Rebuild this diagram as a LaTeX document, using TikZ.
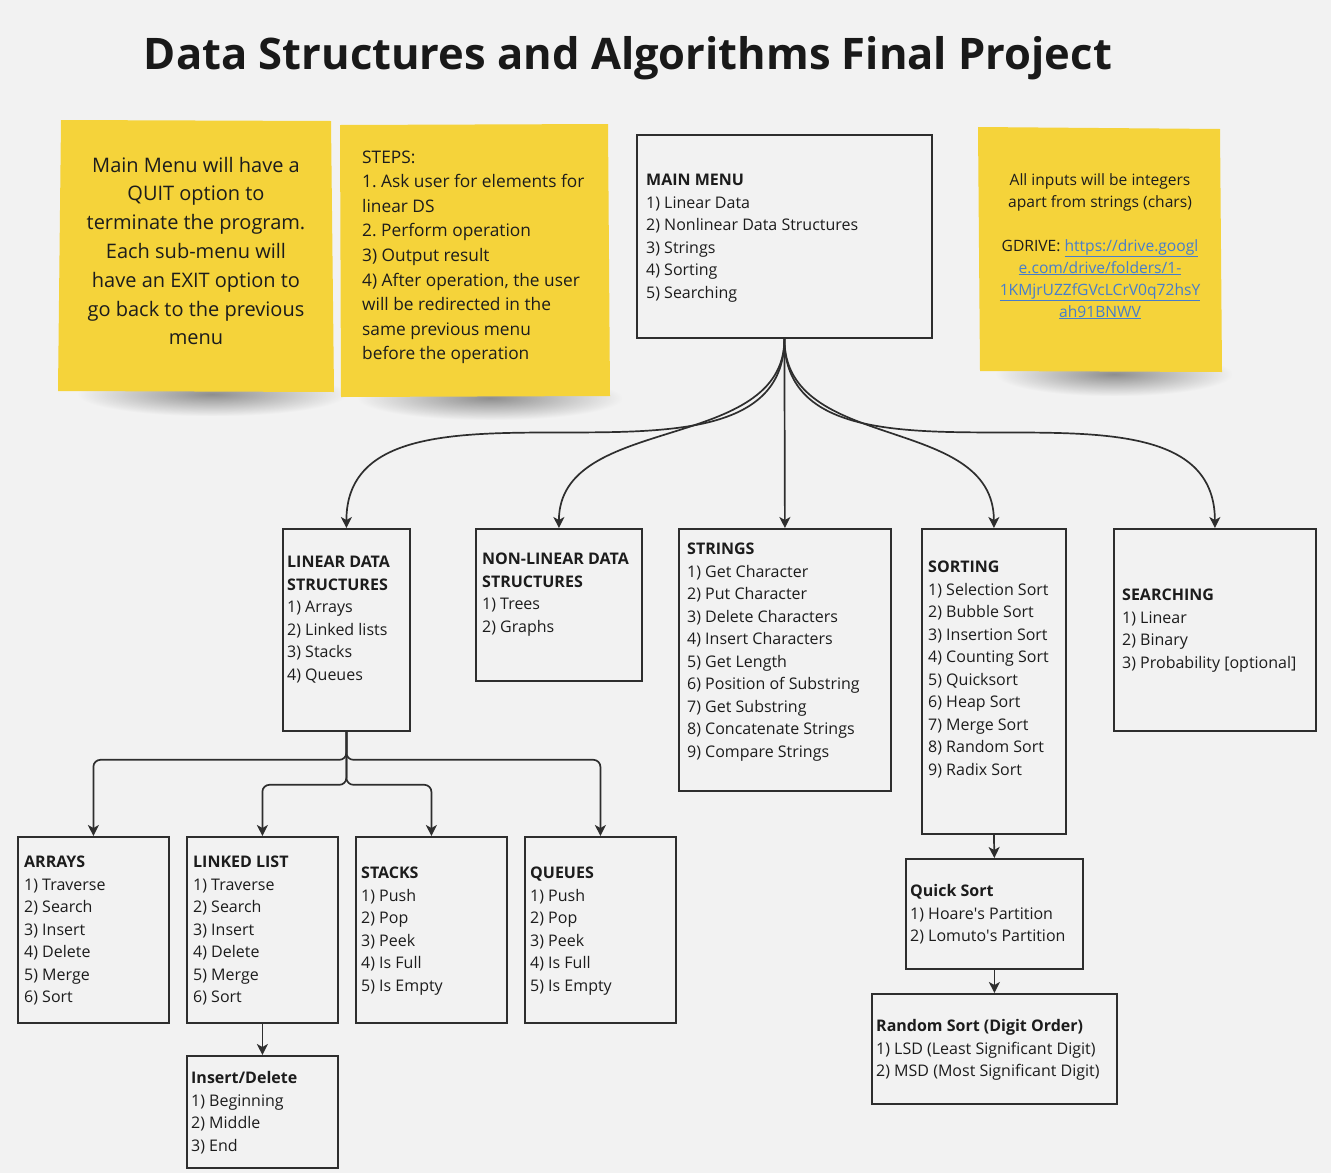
\documentclass[tikz,border=0pt]{standalone}
\usepackage{fontspec}
\setmainfont{Open Sans}
\usetikzlibrary{arrows.meta,fadings,calc}
\definecolor{bg}{HTML}{F2F2F2}
\definecolor{sticky}{RGB}{245,211,58}
\definecolor{ink}{HTML}{1C1C1C}
\definecolor{edgec}{HTML}{2E2E2E}
\definecolor{linkc}{RGB}{70,125,205}
\newcommand\boxfont{\fontsize{16}{22.5}\selectfont}
\newcommand\lnk[1]{\textcolor{linkc}{\underline{#1}}}
\tikzfading[name=softblob, inner color=transparent!0, outer color=transparent!100]
\tikzset{
  menubox/.style={draw=edgec, line width=1.8pt, inner sep=0pt, anchor=north west},
  menutext/.style={font=\boxfont, text=ink, align=left, inner sep=0pt, anchor=base west},
  conn/.style={draw=edgec, line width=1.7pt, -{Stealth[length=11pt,width=11pt,inset=3pt]}},
  note/.style={fill=sticky},
  notetext/.style={text=ink, inner sep=0pt},
  shade/.style={fill=black!70, fill opacity=0.6, path fading=softblob},
}
\begin{document}
\frenchspacing
\begin{tikzpicture}[x=1pt,y=-1pt]
\useasboundingbox (0,0) rectangle (1331,1173);
\fill[bg] (0,0) rectangle (1331,1173);

% title
\node[font=\fontsize{43.5}{50}\selectfont\bfseries, text=black!90, anchor=base, inner sep=0pt] (title) at (628,69) {Data Structures and Algorithms Final Project};

% sticky notes with shadows
\path[shade] (78,372) rectangle (346,416);
\path[shade] (358,376) rectangle (622,420);
\path[shade] (996,352) rectangle (1232,396);
\fill[note] (61,120) -- (331,121) -- (334,392) -- (58,391) -- cycle;
\fill[note] (340,125) -- (608,124) -- (610,396) -- (341,397) -- cycle;
\fill[note] (978,127) -- (1220,129) -- (1222,372) -- (980,371) -- cycle;

\node[notetext, font=\fontsize{20}{28.8}\selectfont\frenchspacing, align=center, anchor=base] (n1) at (196,344.8)
 {Main Menu will have a\\QUIT option to\\terminate the program.\\Each sub-menu will\\have an EXIT option to\\go back to the previous\\menu};
\node[notetext, font=\fontsize{17.3}{24.6}\selectfont\frenchspacing, align=left, anchor=base west] (n2) at (362,359.8)
 {STEPS:\\1. Ask user for elements for\\linear DS\\2. Perform operation\\3) Output result\\4) After operation, the user\\will be redirected in the\\same previous menu\\before the operation};
\node[notetext, font=\fontsize{15.6}{22}\selectfont\frenchspacing, align=center, anchor=base] (n3) at (1100,317)
 {All inputs will be integers\\apart from strings (chars)\\[22pt]GDRIVE: \lnk{https://drive.googl}\\\lnk{e.com/drive/folders/1-}\\\lnk{1KMjrUZZfGVcLCrV0q72hsY}\\\lnk{ah91BNWV}};

% boxes
\node[menubox, minimum width=295, minimum height=203] (mm) at (636,134) {};
\node[menutext] (mmt) at (646,298) {\textbf{MAIN MENU}\\1) Linear Data\\2) Nonlinear Data Structures\\3) Strings\\4) Sorting\\5) Searching};

\node[menubox, minimum width=127, minimum height=202] (lin) at (282,528) {};
\node[menutext] (lint) at (287,680) {\textbf{LINEAR DATA}\\\textbf{STRUCTURES}\\1) Arrays\\2) Linked lists\\3) Stacks\\4) Queues};

\node[menubox, minimum width=166, minimum height=152] (nonlin) at (475,528) {};
\node[menutext] (nonlint) at (482,632) {\textbf{NON-LINEAR DATA}\\\textbf{STRUCTURES}\\1) Trees\\2) Graphs};

\node[menubox, minimum width=212, minimum height=262] (str) at (678,528) {};
\node[menutext] (strt) at (687,757) {\textbf{STRINGS}\\1) Get Character\\2) Put Character\\3) Delete Characters\\4) Insert Characters\\5) Get Length\\6) Position of Substring\\7) Get Substring\\8) Concatenate Strings\\9) Compare Strings};

\node[menubox, minimum width=144, minimum height=305] (sort) at (921,528) {};
\node[menutext] (sortt) at (928,775) {\textbf{SORTING}\\1) Selection Sort\\2) Bubble Sort\\3) Insertion Sort\\4) Counting Sort\\5) Quicksort\\6) Heap Sort\\7) Merge Sort\\8) Random Sort\\9) Radix Sort};

\node[menubox, minimum width=202, minimum height=202] (srch) at (1113,528) {};
\node[menutext] (srcht) at (1122,668) {\textbf{SEARCHING}\\1) Linear\\2) Binary\\3) Probability [optional]};

\node[menubox, minimum width=151, minimum height=186] (arr) at (17,836) {};
\node[menutext] (arrt) at (24,1002.5) {\textbf{ARRAYS}\\1) Traverse\\2) Search\\3) Insert\\4) Delete\\5) Merge\\6) Sort};

\node[menubox, minimum width=151, minimum height=186] (ll) at (186,836) {};
\node[menutext] (llt) at (193,1002.5) {\textbf{LINKED LIST}\\1) Traverse\\2) Search\\3) Insert\\4) Delete\\5) Merge\\6) Sort};

\node[menubox, minimum width=151, minimum height=186] (stk) at (355,836) {};
\node[menutext] (stkt) at (361,991) {\textbf{STACKS}\\1) Push\\2) Pop\\3) Peek\\4) Is Full\\5) Is Empty};

\node[menubox, minimum width=151, minimum height=186] (que) at (524,836) {};
\node[menutext] (quet) at (530,991) {\textbf{QUEUES}\\1) Push\\2) Pop\\3) Peek\\4) Is Full\\5) Is Empty};

\node[menubox, minimum width=151, minimum height=112] (insdel) at (186,1055) {};
\node[menutext] (insdelt) at (191,1151) {\textbf{Insert/Delete}\\1) Beginning\\2) Middle\\3) End};

\node[menubox, minimum width=177, minimum height=110] (qs) at (905,858) {};
\node[menutext] (qst) at (910,941.5) {\textbf{Quick Sort}\\1) Hoare\textquotesingle s Partition\\2) Lomuto\textquotesingle s Partition};

\node[menubox, minimum width=245, minimum height=110] (rs) at (871,993) {};
\node[menutext] (rst) at (876,1076.5) {\textbf{Random Sort (Digit Order)}\\1) LSD (Least Significant Digit)\\2) MSD (Most Significant Digit)};

% connectors from main menu
\draw[conn] (mm.south) .. controls +(0,185) and +(0,-185) .. (lin.north);
\draw[conn] (mm.south) .. controls +(0,115) and +(0,-115) .. (nonlin.north);
\draw[conn] (mm.south) -- (str.north);
\draw[conn] (mm.south) .. controls +(0,115) and +(0,-115) .. (sort.north);
\draw[conn] (mm.south) .. controls +(0,185) and +(0,-185) .. (srch.north);

% linear data structures tree
\coordinate (bus1) at ($(lin.south)+(0,28)$);
\coordinate (bus2) at ($(lin.south)+(0,53)$);
\draw[conn, rounded corners=7pt] (lin.south) -- (bus1) -| (arr.north);
\draw[conn, rounded corners=7pt] (lin.south) -- (bus1) -| (que.north);
\draw[conn, rounded corners=7pt] (lin.south) -- (bus2) -| (ll.north);
\draw[conn, rounded corners=7pt] (lin.south) -- (bus2) -| (stk.north);

\draw[conn] (ll.south) -- (insdel.north);
\draw[conn] (sort.south) -- (qs.north);
\draw[conn] (qs.south) -- (rs.north);
\end{tikzpicture}
\end{document}
